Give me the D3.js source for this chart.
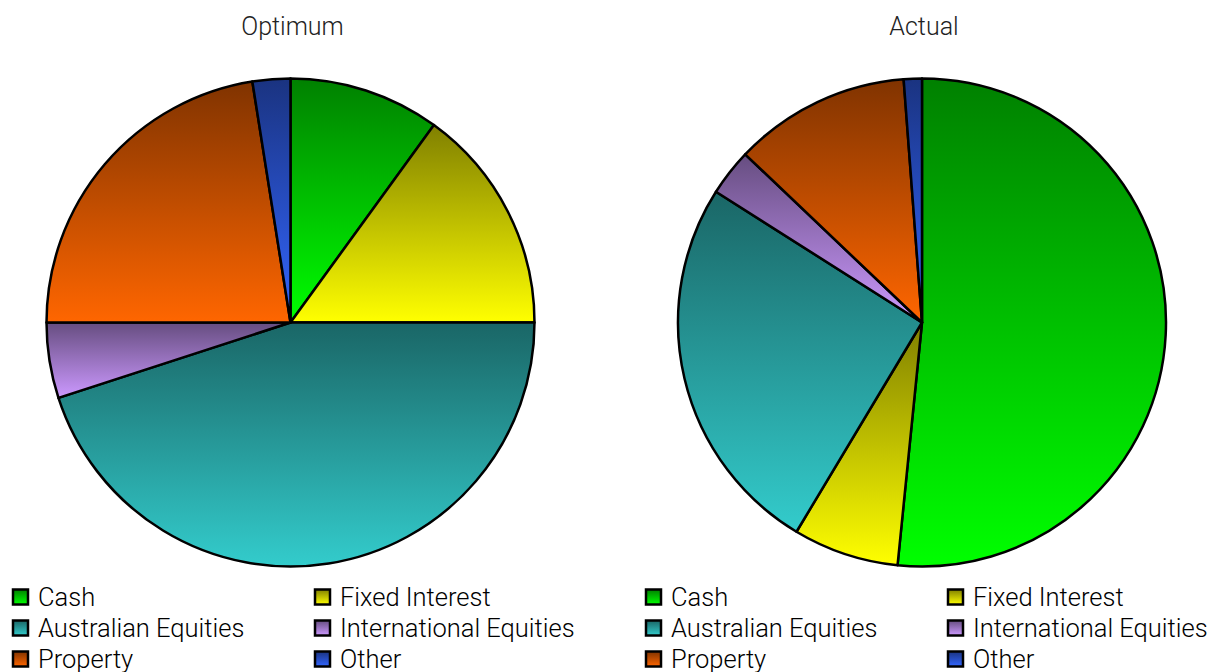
<!DOCTYPE html>
<html>
<head>
<meta charset="utf-8">
<script src="https://cdn.jsdelivr.net/npm/d3@7"></script>
<style>
  body { margin: 0; background: #fff; }
  text { font-family: "Helvetica Neue", Roboto, "Liberation Sans", sans-serif; font-weight: 300; }
</style>
</head>
<body>
<div id="chart"></div>
<script>
// categories and values (percent)
var categories = ["Cash", "Fixed Interest", "Australian Equities", "International Equities", "Property", "Other"];
var optimum = [10, 15, 45, 5, 22.5, 2.5];
var actual = [51.6, 7, 25.4, 3.1, 11.7, 1.2];
var titles = ["Optimum", "Actual"];
var colours = ["#00ff00", "#ffff00", "#33cccc", "#cc99ff", "#ff6600", "#3366ff"];

var width = 1213, height = 672;
var svg = d3.select("#chart").append("svg")
  .attr("width", width)
  .attr("height", height);

// one vertical gradient per category, dark on top
var defs = svg.append("defs");
colours.forEach(function(c, i) {
  var g = defs.append("linearGradient")
    .attr("id", "grad" + i)
    .attr("x1", 0).attr("y1", 0).attr("x2", 0).attr("y2", 1);
  g.append("stop").attr("offset", "0%").attr("stop-color", d3.interpolateRgb("#000", c)(0.5));
  g.append("stop").attr("offset", "100%").attr("stop-color", c);
});

var pie = d3.pie().sort(null).value(function(d) { return d; });
var arc = d3.arc().innerRadius(0).outerRadius(244);

var panels = [
  { title: titles[0], values: optimum, cx: 290.5, legendX: 12 },
  { title: titles[1], values: actual, cx: 922, legendX: 645 }
];

panels.forEach(function(p) {
  svg.append("text")
    .attr("x", p.cx + 2)
    .attr("y", 35)
    .attr("text-anchor", "middle")
    .attr("font-size", 25)
    .attr("fill", "#222")
    .text(p.title);

  var g = svg.append("g").attr("transform", "translate(" + p.cx + ",322.5)");
  g.selectAll("path")
    .data(pie(p.values))
    .enter()
    .append("path")
    .attr("d", arc)
    .attr("fill", function(d, i) { return "url(#grad" + i + ")"; })
    .attr("stroke", "#000")
    .attr("stroke-width", 2.5)
    .attr("stroke-linejoin", "round");

  var colX = d3.scaleOrdinal().domain([0, 1]).range([0, 302]);
  var rowY = d3.scaleLinear().domain([0, 1]).range([597, 628]);

  var item = svg.append("g").selectAll("g")
    .data(categories)
    .enter()
    .append("g")
    .attr("transform", function(d, i) {
      return "translate(" + (p.legendX + colX(i % 2)) + "," + rowY(Math.floor(i / 2)) + ")";
    });
  item.append("rect")
    .attr("x", 1).attr("y", -7.5)
    .attr("width", 15).attr("height", 15)
    .attr("fill", function(d, i) { return "url(#grad" + i + ")"; })
    .attr("stroke", "#000")
    .attr("stroke-width", 2.5);
  item.append("text")
    .attr("x", 26)
    .attr("y", 9)
    .attr("font-size", 25.5)
    .attr("fill", "#000")
    .text(function(d) { return d; });
});
</script>
</body>
</html>
